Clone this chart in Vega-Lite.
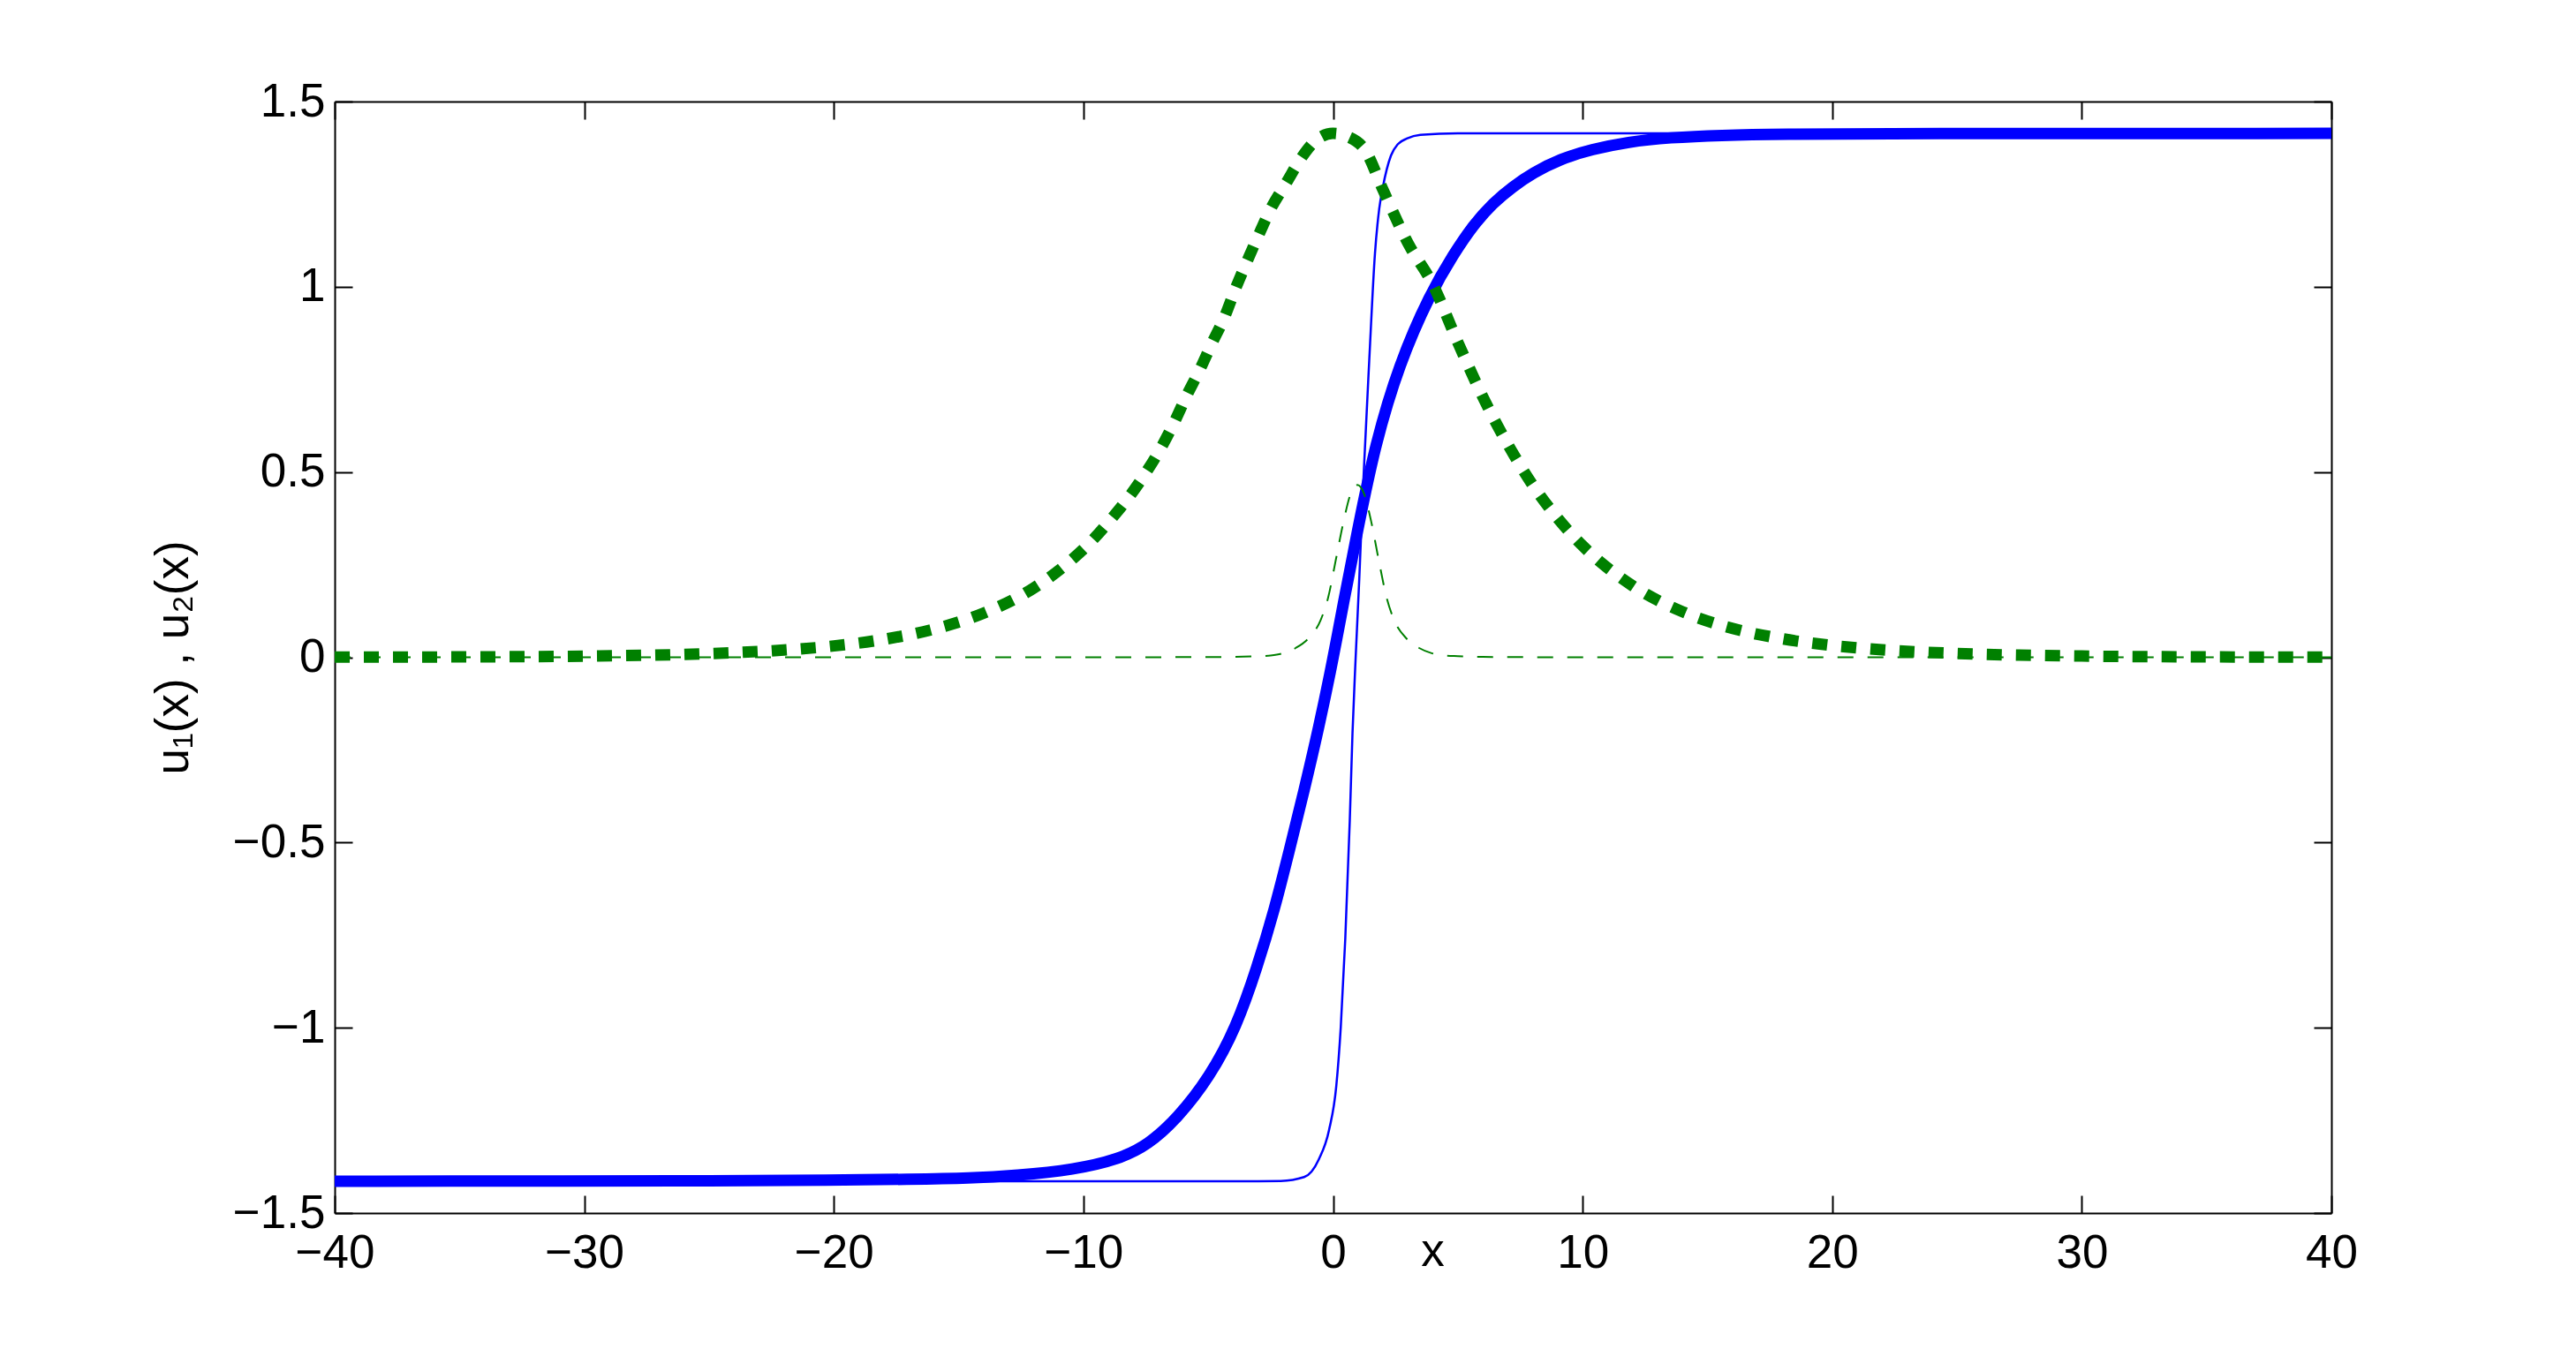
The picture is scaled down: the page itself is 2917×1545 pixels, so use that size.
{
  "$schema": "https://vega.github.io/schema/vega-lite/v6.json",
  "width": 2261,
  "height": 1259,
  "autosize": {"type": "none"},
  "padding": {"left": 379, "top": 115, "right": 277, "bottom": 171},
  "background": "white",
  "config": {
    "view": {"stroke": null},
    "font": "Liberation Sans",
    "axis": {
      "domainColor": "black", "domainWidth": 2, "tickColor": "black", "tickWidth": 2,
      "tickSize": -20, "labelFont": "Liberation Sans", "labelFontSize": 53, "labelColor": "black",
      "titleFont": "Liberation Sans", "titleFontSize": 53, "titleColor": "black", "titleFontWeight": "normal",
      "grid": false, "labelFlush": false, "labelOverlap": false
    }
  },
  "datasets": {
    "curves": [
      {"s": "u1thick", "x": -40, "y": -1.414}, {"s": "u1thick", "x": -30, "y": -1.4138}, {"s": "u1thick", "x": -25, "y": -1.413},
      {"s": "u1thick", "x": -20, "y": -1.4115}, {"s": "u1thick", "x": -17, "y": -1.409}, {"s": "u1thick", "x": -14.5, "y": -1.406},
      {"s": "u1thick", "x": -12.72, "y": -1.399}, {"s": "u1thick", "x": -10.36, "y": -1.383}, {"s": "u1thick", "x": -8.59, "y": -1.355},
      {"s": "u1thick", "x": -7.41, "y": -1.316}, {"s": "u1thick", "x": -6.23, "y": -1.244}, {"s": "u1thick", "x": -4.94, "y": -1.133},
      {"s": "u1thick", "x": -3.87, "y": -0.998}, {"s": "u1thick", "x": -3.05, "y": -0.839}, {"s": "u1thick", "x": -2.34, "y": -0.68},
      {"s": "u1thick", "x": -1.75, "y": -0.521}, {"s": "u1thick", "x": -1.16, "y": -0.36}, {"s": "u1thick", "x": -0.57, "y": -0.19},
      {"s": "u1thick", "x": 0, "y": -0.005},
      {"s": "u1thick", "x": 0.41, "y": 0.145}, {"s": "u1thick", "x": 1.04, "y": 0.362}, {"s": "u1thick", "x": 1.68, "y": 0.572},
      {"s": "u1thick", "x": 2.64, "y": 0.791}, {"s": "u1thick", "x": 3.9, "y": 0.983}, {"s": "u1thick", "x": 4.84, "y": 1.089},
      {"s": "u1thick", "x": 5.6, "y": 1.165}, {"s": "u1thick", "x": 6.42, "y": 1.227}, {"s": "u1thick", "x": 7.2, "y": 1.27},
      {"s": "u1thick", "x": 8.0, "y": 1.307}, {"s": "u1thick", "x": 9.1, "y": 1.345}, {"s": "u1thick", "x": 10.37, "y": 1.371},
      {"s": "u1thick", "x": 11.8, "y": 1.391}, {"s": "u1thick", "x": 13.5, "y": 1.403}, {"s": "u1thick", "x": 15.5, "y": 1.409},
      {"s": "u1thick", "x": 18, "y": 1.412}, {"s": "u1thick", "x": 22, "y": 1.4135}, {"s": "u1thick", "x": 40, "y": 1.414},

      {"s": "u1thin", "x": -40, "y": -1.414}, {"s": "u1thin", "x": -3, "y": -1.414}, {"s": "u1thin", "x": -2.1, "y": -1.4135},
      {"s": "u1thin", "x": -1.16, "y": -1.403}, {"s": "u1thin", "x": -0.57, "y": -1.355}, {"s": "u1thin", "x": -0.16, "y": -1.276},
      {"s": "u1thin", "x": 0.13, "y": -1.157}, {"s": "u1thin", "x": 0.31, "y": -0.998}, {"s": "u1thin", "x": 0.49, "y": -0.76},
      {"s": "u1thin", "x": 0.67, "y": -0.442}, {"s": "u1thin", "x": 0.78, "y": -0.204}, {"s": "u1thin", "x": 0.9, "y": -0.01},
      {"s": "u1thin", "x": 1.05, "y": 0.21}, {"s": "u1thin", "x": 1.21, "y": 0.47},
      {"s": "u1thin", "x": 1.45, "y": 0.8}, {"s": "u1thin", "x": 1.68, "y": 1.09}, {"s": "u1thin", "x": 1.85, "y": 1.21},
      {"s": "u1thin", "x": 2.0, "y": 1.27}, {"s": "u1thin", "x": 2.32, "y": 1.354}, {"s": "u1thin", "x": 2.6, "y": 1.385},
      {"s": "u1thin", "x": 2.96, "y": 1.4}, {"s": "u1thin", "x": 3.5, "y": 1.41}, {"s": "u1thin", "x": 5, "y": 1.414},
      {"s": "u1thin", "x": 40, "y": 1.414},

      {"s": "u2thick", "x": -40, "y": 0.0003}, {"s": "u2thick", "x": -35, "y": 0.001}, {"s": "u2thick", "x": -30, "y": 0.0032},
      {"s": "u2thick", "x": -25, "y": 0.0099}, {"s": "u2thick", "x": -22, "y": 0.0195}, {"s": "u2thick", "x": -20, "y": 0.0306},
      {"s": "u2thick", "x": -18, "y": 0.0483}, {"s": "u2thick", "x": -16, "y": 0.0758}, {"s": "u2thick", "x": -14, "y": 0.119},
      {"s": "u2thick", "x": -12, "y": 0.1865}, {"s": "u2thick", "x": -10.63, "y": 0.254}, {"s": "u2thick", "x": -9.77, "y": 0.307},
      {"s": "u2thick", "x": -8.98, "y": 0.366}, {"s": "u2thick", "x": -8.23, "y": 0.428}, {"s": "u2thick", "x": -7.55, "y": 0.493},
      {"s": "u2thick", "x": -6.92, "y": 0.562}, {"s": "u2thick", "x": -6.37, "y": 0.633}, {"s": "u2thick", "x": -5.86, "y": 0.707},
      {"s": "u2thick", "x": -5.34, "y": 0.776}, {"s": "u2thick", "x": -4.87, "y": 0.845}, {"s": "u2thick", "x": -4.35, "y": 0.918},
      {"s": "u2thick", "x": -3.92, "y": 0.993}, {"s": "u2thick", "x": -3.45, "y": 1.068}, {"s": "u2thick", "x": -2.98, "y": 1.14},
      {"s": "u2thick", "x": -2.5, "y": 1.21}, {"s": "u2thick", "x": -1.87, "y": 1.281}, {"s": "u2thick", "x": -1.29, "y": 1.346},
      {"s": "u2thick", "x": -0.6, "y": 1.4}, {"s": "u2thick", "x": 0, "y": 1.414}, {"s": "u2thick", "x": 0.6, "y": 1.405},
      {"s": "u2thick", "x": 1.29, "y": 1.368}, {"s": "u2thick", "x": 2, "y": 1.262}, {"s": "u2thick", "x": 3, "y": 1.118},
      {"s": "u2thick", "x": 4, "y": 1.006}, {"s": "u2thick", "x": 5, "y": 0.85}, {"s": "u2thick", "x": 6, "y": 0.703},
      {"s": "u2thick", "x": 7, "y": 0.575}, {"s": "u2thick", "x": 8, "y": 0.465}, {"s": "u2thick", "x": 9, "y": 0.375},
      {"s": "u2thick", "x": 10, "y": 0.301}, {"s": "u2thick", "x": 12, "y": 0.193}, {"s": "u2thick", "x": 14, "y": 0.123},
      {"s": "u2thick", "x": 16, "y": 0.078}, {"s": "u2thick", "x": 18, "y": 0.05}, {"s": "u2thick", "x": 20, "y": 0.0317},
      {"s": "u2thick", "x": 22, "y": 0.0202}, {"s": "u2thick", "x": 25, "y": 0.0103}, {"s": "u2thick", "x": 30, "y": 0.0033},
      {"s": "u2thick", "x": 35, "y": 0.0011}, {"s": "u2thick", "x": 40, "y": 0.0003},

      {"s": "u2thin", "x": -40, "y": 0}, {"s": "u2thin", "x": -10, "y": 0}, {"s": "u2thin", "x": -4, "y": 0.001},
      {"s": "u2thin", "x": -3, "y": 0.003}, {"s": "u2thin", "x": -2.5, "y": 0.005}, {"s": "u2thin", "x": -2, "y": 0.011},
      {"s": "u2thin", "x": -1.5, "y": 0.025}, {"s": "u2thin", "x": -1, "y": 0.05}, {"s": "u2thin", "x": -0.5, "y": 0.1},
      {"s": "u2thin", "x": -0.2, "y": 0.16}, {"s": "u2thin", "x": 0.1, "y": 0.259}, {"s": "u2thin", "x": 0.42, "y": 0.366},
      {"s": "u2thin", "x": 0.7, "y": 0.44}, {"s": "u2thin", "x": 0.975, "y": 0.465}, {"s": "u2thin", "x": 1.25, "y": 0.44},
      {"s": "u2thin", "x": 1.53, "y": 0.366}, {"s": "u2thin", "x": 1.84, "y": 0.259}, {"s": "u2thin", "x": 2.15, "y": 0.16},
      {"s": "u2thin", "x": 2.45, "y": 0.1}, {"s": "u2thin", "x": 2.95, "y": 0.05}, {"s": "u2thin", "x": 3.45, "y": 0.025},
      {"s": "u2thin", "x": 3.95, "y": 0.011}, {"s": "u2thin", "x": 4.45, "y": 0.005}, {"s": "u2thin", "x": 5, "y": 0.003},
      {"s": "u2thin", "x": 6, "y": 0.001}, {"s": "u2thin", "x": 10, "y": 0}, {"s": "u2thin", "x": 40, "y": 0}
    ]
  },
  "data": {"name": "curves"},
  "resolve": {"axis": {"x": "independent", "y": "independent"}},
  "layer": [
    {
      "transform": [{"filter": "datum.s === 'u1thick'"}],
      "mark": {"type": "line", "color": "#0000FF", "strokeWidth": 13, "interpolate": "basis", "clip": true},
      "encoding": {
        "x": {"field": "x", "type": "quantitative", "scale": {"domain": [-40, 40], "nice": false, "zero": false},
          "axis": {"orient": "bottom", "values": [-40, -30, -20, -10, 0, 10, 20, 30, 40], "labelPadding": 39,
            "title": "x", "titleX": 1243, "titleY": 59, "titleBaseline": "alphabetic", "titleAlign": "center", "titleAngle": 0}},
        "y": {"field": "y", "type": "quantitative", "scale": {"domain": [-1.5, 1.5], "nice": false, "zero": false},
          "axis": {"orient": "left", "values": [-1.5, -1, -0.5, 0, 0.5, 1, 1.5], "format": "~g", "labelPadding": 31,
            "title": "u₁(x) , u₂(x)", "titleX": -167, "titleY": 629.5, "titleAngle": -90, "titleBaseline": "alphabetic", "titleAlign": "center"}}
      }
    },
    {
      "transform": [{"filter": "datum.s === 'u1thin'"}],
      "mark": {"type": "line", "color": "#0000FF", "strokeWidth": 2.5, "interpolate": "monotone", "clip": true},
      "encoding": {
        "x": {"field": "x", "type": "quantitative", "axis": null},
        "y": {"field": "y", "type": "quantitative", "axis": null}
      }
    },
    {
      "transform": [{"filter": "datum.s === 'u2thick'"}],
      "mark": {"type": "line", "color": "#008000", "strokeWidth": 13, "strokeDash": [17, 16], "strokeCap": "butt", "interpolate": "monotone", "clip": true},
      "encoding": {
        "x": {"field": "x", "type": "quantitative", "axis": null},
        "y": {"field": "y", "type": "quantitative", "axis": null}
      }
    },
    {
      "transform": [{"filter": "datum.s === 'u2thin'"}],
      "mark": {"type": "line", "color": "#008000", "strokeWidth": 2, "strokeDash": [18, 16], "strokeCap": "butt", "interpolate": "monotone", "clip": true},
      "encoding": {
        "x": {"field": "x", "type": "quantitative", "axis": null},
        "y": {"field": "y", "type": "quantitative", "axis": null}
      }
    },
    {
      "transform": [{"filter": "datum.s === 'u2thin'"}],
      "mark": {"type": "point", "opacity": 0},
      "encoding": {
        "x": {"field": "x", "type": "quantitative",
          "axis": {"orient": "top", "values": [-40, -30, -20, -10, 0, 10, 20, 30, 40], "labels": false, "title": null}},
        "y": {"field": "y", "type": "quantitative",
          "axis": {"orient": "right", "values": [-1.5, -1, -0.5, 0, 0.5, 1, 1.5], "labels": false, "title": null}}
      }
    }
  ]
}
